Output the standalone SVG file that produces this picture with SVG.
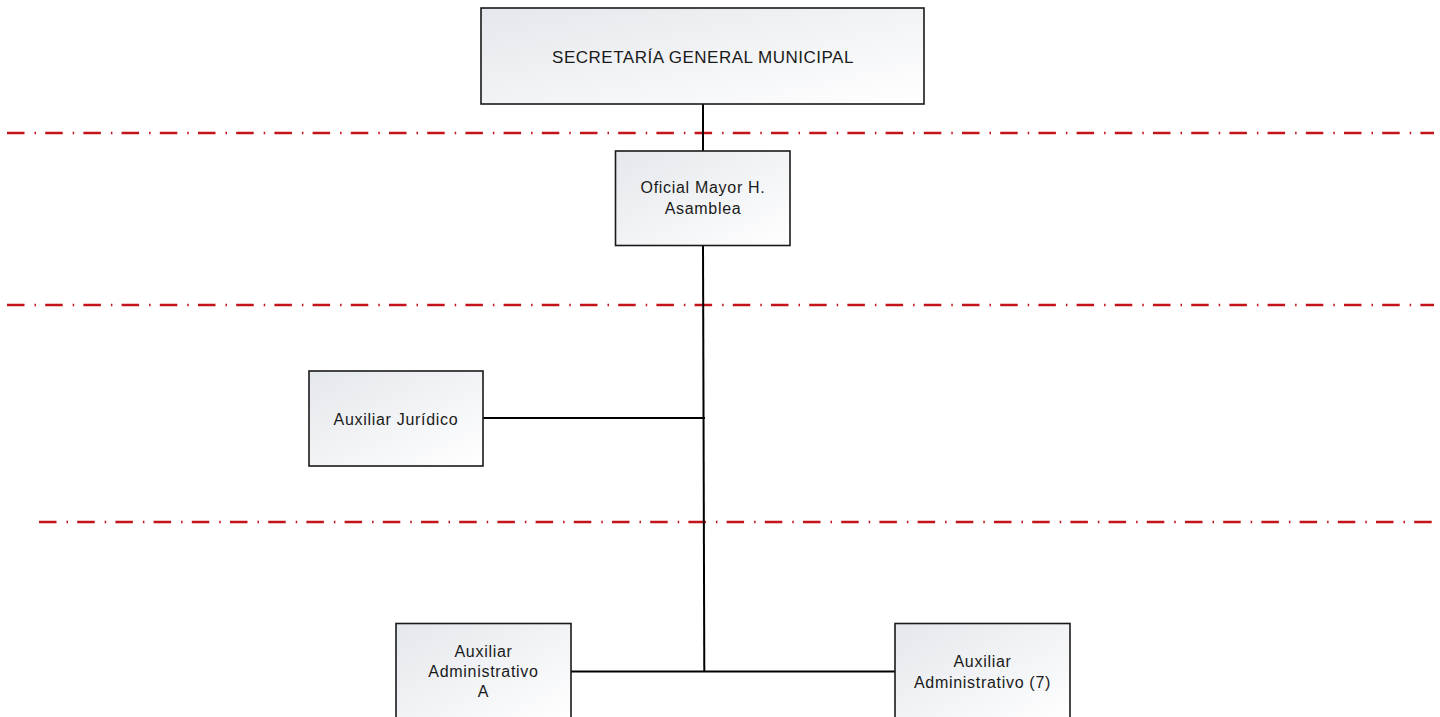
<svg xmlns="http://www.w3.org/2000/svg" width="1440" height="717" viewBox="0 0 1440 717">
  <defs>
    <linearGradient id="boxFill" x1="0" y1="0" x2="1" y2="1">
      <stop offset="0" stop-color="#e4e7ec"/>
      <stop offset="1" stop-color="#ffffff"/>
    </linearGradient>
    <style>
      .box { fill: url(#boxFill); stroke: #1a1a1a; stroke-width: 1.6; }
      .lbl { font-family: "Liberation Sans", Arial, sans-serif; font-size: 16px; fill: #1a1a1a; text-anchor: middle; letter-spacing: 0.7px; }
      .big { font-size: 17px; letter-spacing: 0.5px; }
      .wire { stroke: #000; stroke-width: 2; fill: none; }
      .level { stroke: #c4141b; stroke-width: 2.4; fill: none; stroke-dasharray: 17.5 10 1.5 9.2; }
    </style>
  </defs>
  <rect width="1440" height="717" fill="#ffffff"/>

  <!-- hierarchy level separators -->
  <g id="levels">
    <line class="level" x1="7" y1="133" x2="1434" y2="133"/>
    <line class="level" x1="7" y1="305" x2="1434" y2="305"/>
    <line class="level" x1="39" y1="522" x2="1434" y2="522"/>
  </g>

  <!-- connectors -->
  <g id="connectors">
    <line class="wire" x1="703" y1="104" x2="703" y2="151"/>
    <line class="wire" x1="703" y1="246" x2="704.3" y2="671.5"/>
    <line class="wire" x1="483" y1="418" x2="705" y2="418"/>
    <line class="wire" x1="571" y1="671.5" x2="895" y2="671.5"/>
  </g>

  <g id="secretaria-general">
    <rect class="box" x="481" y="8" width="443" height="96"/>
    <text class="lbl big" x="703" y="63">SECRETARÍA GENERAL MUNICIPAL</text>
  </g>

  <g id="oficial-mayor">
    <rect class="box" x="615.5" y="151" width="174.5" height="94.5"/>
    <text class="lbl" x="703" y="193">Oficial Mayor H.</text>
    <text class="lbl" x="703" y="214">Asamblea</text>
  </g>

  <g id="auxiliar-juridico">
    <rect class="box" x="309" y="371" width="174" height="95"/>
    <text class="lbl" x="396" y="425">Auxiliar Jurídico</text>
  </g>

  <g id="auxiliar-administrativo-a">
    <rect class="box" x="396" y="623.5" width="175" height="100"/>
    <text class="lbl" x="483.5" y="657">Auxiliar</text>
    <text class="lbl" x="483.5" y="677">Administrativo</text>
    <text class="lbl" x="483.5" y="697">A</text>
  </g>

  <g id="auxiliar-administrativo-7">
    <rect class="box" x="895" y="623.5" width="175" height="100"/>
    <text class="lbl" x="982.5" y="667">Auxiliar</text>
    <text class="lbl" x="982.5" y="688">Administrativo (7)</text>
  </g>
</svg>
